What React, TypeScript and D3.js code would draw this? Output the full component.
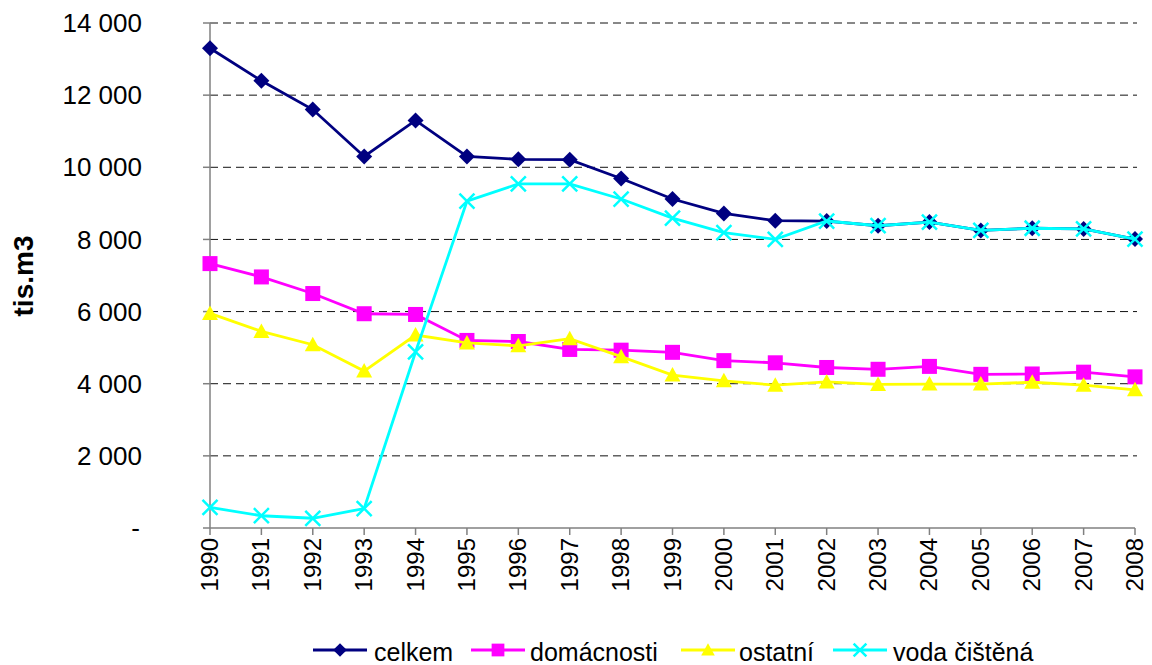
import React from 'react';
import * as d3 from 'd3';

const years = [
  '1990', '1991', '1992', '1993', '1994', '1995', '1996', '1997', '1998', '1999',
  '2000', '2001', '2002', '2003', '2004', '2005', '2006', '2007', '2008',
];

const celkem = [
  13300, 12400, 11600, 10300, 11300, 10300, 10220, 10210, 9690, 9120,
  8720, 8520, 8510, 8380, 8480, 8250, 8310, 8290, 8010,
];
const domacnosti = [
  7330, 6960, 6500, 5940, 5920, 5200, 5170, 4950, 4930, 4870,
  4640, 4580, 4450, 4400, 4480, 4260, 4270, 4320, 4190,
];
const ostatni = [
  5950, 5450, 5080, 4350, 5350, 5130, 5050, 5250, 4750, 4240,
  4080, 3960, 4050, 3980, 3990, 3990, 4040, 3960, 3830,
];
const voda = [
  570, 340, 270, 540, 4880, 9060, 9540, 9540, 9120, 8590,
  8190, 8000, 8510, 8380, 8480, 8250, 8310, 8290, 8010,
];

const yTicks = [0, 2000, 4000, 6000, 8000, 10000, 12000, 14000];

const series = [
  { name: 'celkem', values: celkem, color: '#000080', marker: 'diamond' },
  { name: 'domácnosti', values: domacnosti, color: '#FF00FF', marker: 'square' },
  { name: 'ostatní', values: ostatni, color: '#FFFF00', marker: 'triangle' },
  { name: 'voda čištěná', values: voda, color: '#00FFFF', marker: 'cross' },
];

const width = 1152;
const height = 665;
const margin = { top: 23, right: 17, bottom: 137, left: 210 };
const font = 'Arial, "Liberation Sans", sans-serif';

function Marker({ type, x, y, color, s = 1 }: { type: string; x: number; y: number; color: string; s?: number }) {
  if (type === 'diamond') {
    const r = 8 * s;
    return <path d={`M${x},${y - r}L${x + r},${y}L${x},${y + r}L${x - r},${y}Z`} fill={color} />;
  }
  if (type === 'square') {
    const r = 7.5 * s;
    return <rect x={x - r} y={y - r} width={r * 2} height={r * 2} fill={color} />;
  }
  if (type === 'triangle') {
    const r = 8 * s;
    return <path d={`M${x},${y - r}L${x + r},${y + 6.5 * s}L${x - r},${y + 6.5 * s}Z`} fill={color} />;
  }
  const r = 7.5 * s;
  return (
    <path
      d={`M${x - r},${y - r}L${x + r},${y + r}M${x - r},${y + r}L${x + r},${y - r}`}
      stroke={color}
      strokeWidth={2.5}
      fill="none"
    />
  );
}

export default function App() {
  const x = d3
    .scalePoint<string>()
    .domain(years)
    .range([margin.left, width - margin.right]);

  const y = d3
    .scaleLinear()
    .domain([0, 14000])
    .range([height - margin.bottom, margin.top]);

  const line = d3
    .line<number>()
    .x((_, i) => x(years[i]) as number)
    .y((d) => y(d));

  const fmt = (v: number) => (v === 0 ? '-' : d3.format(',')(v).replace(',', ' '));

  // legend: line start and text start of each entry
  const legendItems = [
    { lx: 313, tx: 374 },
    { lx: 471, tx: 530 },
    { lx: 681, tx: 739 },
    { lx: 833, tx: 893 },
  ];
  const legendY = 650;

  return (
    <svg
      width={width}
      height={height}
      style={{ position: 'absolute', left: 0, top: 0, background: '#fff' }}
      fontFamily={font}
    >
      {/* gridlines */}
      {yTicks.map((t) =>
        t === 0 ? null : (
          <line
            key={t}
            x1={margin.left}
            x2={width - margin.right + 2}
            y1={y(t)}
            y2={y(t)}
            stroke="#111"
            strokeWidth={1}
            strokeDasharray="8,5"
          />
        )
      )}

      {/* y axis */}
      <line x1={margin.left} x2={margin.left} y1={margin.top} y2={y(0)} stroke="#808080" strokeWidth={1.5} />
      {yTicks.map((t) => (
        <g key={t}>
          <line x1={margin.left - 7} x2={margin.left} y1={y(t)} y2={y(t)} stroke="#808080" strokeWidth={1.5} />
          <text x={t === 0 ? 140 : 142} y={y(t)} dy="0.35em" textAnchor="end" fontSize={26} fill="#000">
            {fmt(t)}
          </text>
        </g>
      ))}
      <text
        transform={`translate(33,276) rotate(-90)`}
        textAnchor="middle"
        fontSize={28}
        fontWeight="bold"
        fill="#000"
      >
        tis.m3
      </text>

      {/* x axis */}
      <line x1={margin.left} x2={width - margin.right} y1={y(0)} y2={y(0)} stroke="#808080" strokeWidth={1.5} />
      {years.map((yr) => (
        <g key={yr}>
          <line x1={x(yr)} x2={x(yr)} y1={y(0)} y2={y(0) + 7} stroke="#808080" strokeWidth={1.5} />
          <text
            transform={`translate(${(x(yr) as number) + 8},${y(0) + 10}) rotate(-90)`}
            textAnchor="end"
            fontSize={24}
            fill="#000"
          >
            {yr}
          </text>
        </g>
      ))}

      {/* series */}
      {series.map((s) => (
        <g key={s.name}>
          <path d={line(s.values) as string} fill="none" stroke={s.color} strokeWidth={2.8} />
          {s.values.map((v, i) => (
            <Marker key={i} type={s.marker} x={x(years[i]) as number} y={y(v)} color={s.color} />
          ))}
        </g>
      ))}

      {/* legend */}
      {series.map((s, i) => (
        <g key={s.name}>
          <line
            x1={legendItems[i].lx}
            x2={legendItems[i].lx + 54}
            y1={legendY}
            y2={legendY}
            stroke={s.color}
            strokeWidth={2.8}
          />
          <Marker type={s.marker} x={legendItems[i].lx + 27} y={legendY} color={s.color} s={0.85} />
          <text x={legendItems[i].tx} y={legendY + 11} fontSize={25} fill="#000">
            {s.name}
          </text>
        </g>
      ))}
    </svg>
  );
}
